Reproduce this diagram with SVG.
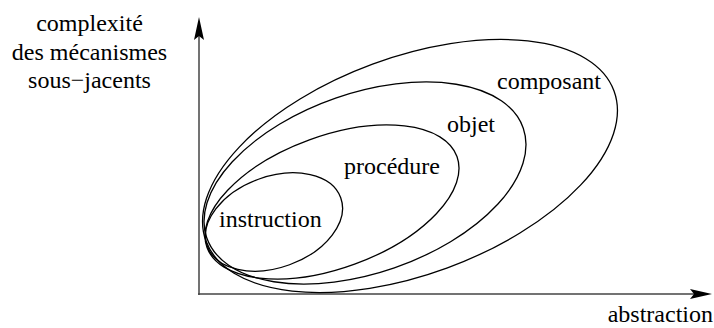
<svg xmlns="http://www.w3.org/2000/svg" width="714" height="328" viewBox="0 0 714 328">
<style>
text{font-family:"Times New Roman","Liberation Serif",Tinos,serif;font-size:24px;fill:#000}
.e{fill:none;stroke:#000;stroke-width:1.3}
.ax{fill:none;stroke:#444;stroke-width:1.5}
.ah{fill:#000;stroke:none}
</style>
<rect width="714" height="328" fill="#fff"/>
<g id="axes">
<line class="ax" x1="199" y1="295" x2="199" y2="34"/>
<polygon class="ah" points="199,17 204,40 199,36 194,40"/>
<line class="ax" x1="198" y1="294" x2="694" y2="294"/>
<polygon class="ah" points="712,294 690,299 694,294 690,289"/>
</g>
<g id="label-y">
<text x="89.5" y="31" text-anchor="middle">complexité</text>
<text x="89.5" y="60" text-anchor="middle">des mécanismes</text>
<text x="89.5" y="88" text-anchor="middle">sous−jacents</text>
</g>
<g id="label-x"><text x="713" y="322" text-anchor="end">abstraction</text></g>
<g id="composant">
<ellipse class="e" cx="410" cy="166" rx="217.4" ry="108.5" transform="rotate(-20.2 410 166)"/>
<text x="497" y="89">composant</text>
</g>
<g id="objet">
<ellipse class="e" cx="365" cy="183" rx="167.5" ry="89.8" transform="rotate(-19.1 365 183)"/>
<text x="447" y="132">objet</text>
</g>
<g id="procedure">
<ellipse class="e" cx="332" cy="202" rx="133" ry="66.1" transform="rotate(-20 332 202)"/>
<text x="344" y="174">procédure</text>
</g>
<g id="instruction">
<ellipse class="e" cx="274" cy="222" rx="71" ry="45.5" transform="rotate(-20 274 222)"/>
<text x="219" y="227">instruction</text>
</g>
</svg>
